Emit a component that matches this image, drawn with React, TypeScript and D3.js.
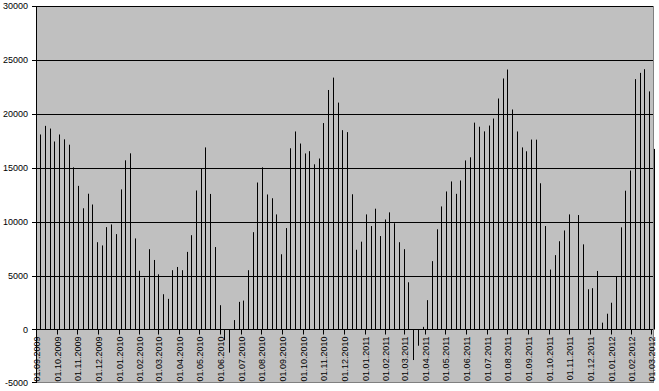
import React from "react";
import * as d3 from "d3";

// weekly values starting 07.09.2009
const startDate = new Date(2009, 8, 7);
const values: number[] = [
  18100, 18900, 18650, 17450, 18100, 17650, 17150, 15050, 13330, 11250,
  12600, 11600, 8100, 7800, 9500, 9750, 8850, 13000, 15700, 16350,
  8450, 5450, 4800, 7450, 6450, 5120, 3270, 2840, 5500, 5800,
  5500, 7200, 8750, 12900, 14900, 16900, 12580, 7650, 2250, -1000,
  -2150, 870, 2560, 2680, 5500, 9030, 13640, 15050, 12530, 12180,
  10680, 6980, 9410, 16820, 18380, 17260, 16340, 16550, 15330, 15870,
  19160, 22230, 23380, 21060, 18500, 18320, 12550, 7400, 8150, 10680,
  9600, 11210, 8670, 10210, 10870, 9860, 8100, 7450, 4380, -2840,
  -1510, 240, 2720, 6340, 9300, 11420, 12810, 13740, 12590, 13830,
  15690, 15980, 19200, 18820, 18390, 18930, 19580, 21440, 23300, 24130,
  20420, 18380, 16900, 16540, 17630, 17620, 13570, 9600, 5560, 6900,
  8190, 9190, 10680, 0, 10620, 7900, 3730, 3830, 5430, 630,
  1460, 2480, 4960, 9480, 12880, 14750, 23240, 23820, 24160, 22100,
  16760,
];
const dates: Date[] = values.map((_, i) => d3.timeDay.offset(startDate, 7 * i));

const yTicks: number[] = [-5000, 0, 5000, 10000, 15000, 20000, 25000, 30000];
const monthTicks: Date[] = d3.timeMonth.range(new Date(2009, 8, 1), new Date(2012, 2, 2));
const fmt = d3.timeFormat("%d.%m.%Y");

export default function App() {
  const W = 659, H = 391;
  const left = 36, right = 654, top = 6.3, bottom = 383.3;
  const x = d3.scaleTime()
    .domain([new Date(2009, 8, 1), new Date(2012, 2, 1)])
    .range([36.3, 651]);
  const y = d3.scaleLinear().domain([-5000, 30000]).range([bottom, top]);
  const y0 = Math.round(y(0)) + 0.5;

  return (
    <svg width={W} height={H} style={{ position: "absolute", left: 0, top: 0, background: "#fff" }}
      fontFamily="'Liberation Sans', Arial, sans-serif">
      <rect x={left} y={Math.round(top)} width={right - left} height={Math.round(bottom) - Math.round(top)} fill="#c0c0c0" />
      <rect x={left + 0.5} y={Math.round(top) + 0.5} width={right - left - 1} height={Math.round(bottom) - Math.round(top) - 1}
        fill="none" stroke="#808080" strokeWidth={1} />
      {yTicks.filter(t => t > -5000).map(t => (
        <line key={"g" + t} x1={32} x2={right - 1} y1={Math.round(y(t)) + 0.5} y2={Math.round(y(t)) + 0.5}
          stroke="#000" strokeWidth={1} />
      ))}
      <line x1={32} x2={left} y1={Math.round(y(-5000)) - 0.5} y2={Math.round(y(-5000)) - 0.5} stroke="#000" />
      <line x1={left + 0.5} x2={left + 0.5} y1={Math.round(top)} y2={Math.round(bottom)} stroke="#000" />
      {yTicks.map(t => (
        <text key={"yl" + t} x={28} y={y(t)} dy="0.35em" textAnchor="end" fontSize={9} fill="#000">{t}</text>
      ))}
      {values.map((v, i) => {
        const xb = Math.round(x(dates[i]));
        const yv = y(v);
        return (
          <rect key={"b" + i} x={xb} y={Math.min(yv, y0)} width={1} height={Math.abs(yv - y0)} fill="#000" />
        );
      })}
      {monthTicks.map((m, i) => {
        const xm = Math.round(x(m)) + 0.5;
        return (
          <g key={"m" + i}>
            <line x1={xm} x2={xm} y1={y0} y2={y0 + 5} stroke="#000" />
            <text transform={`translate(${xm},${y0 + 7}) rotate(-90)`} textAnchor="end" dy="0.35em"
              fontSize={9} fill="#000">{fmt(m)}</text>
          </g>
        );
      })}
    </svg>
  );
}
